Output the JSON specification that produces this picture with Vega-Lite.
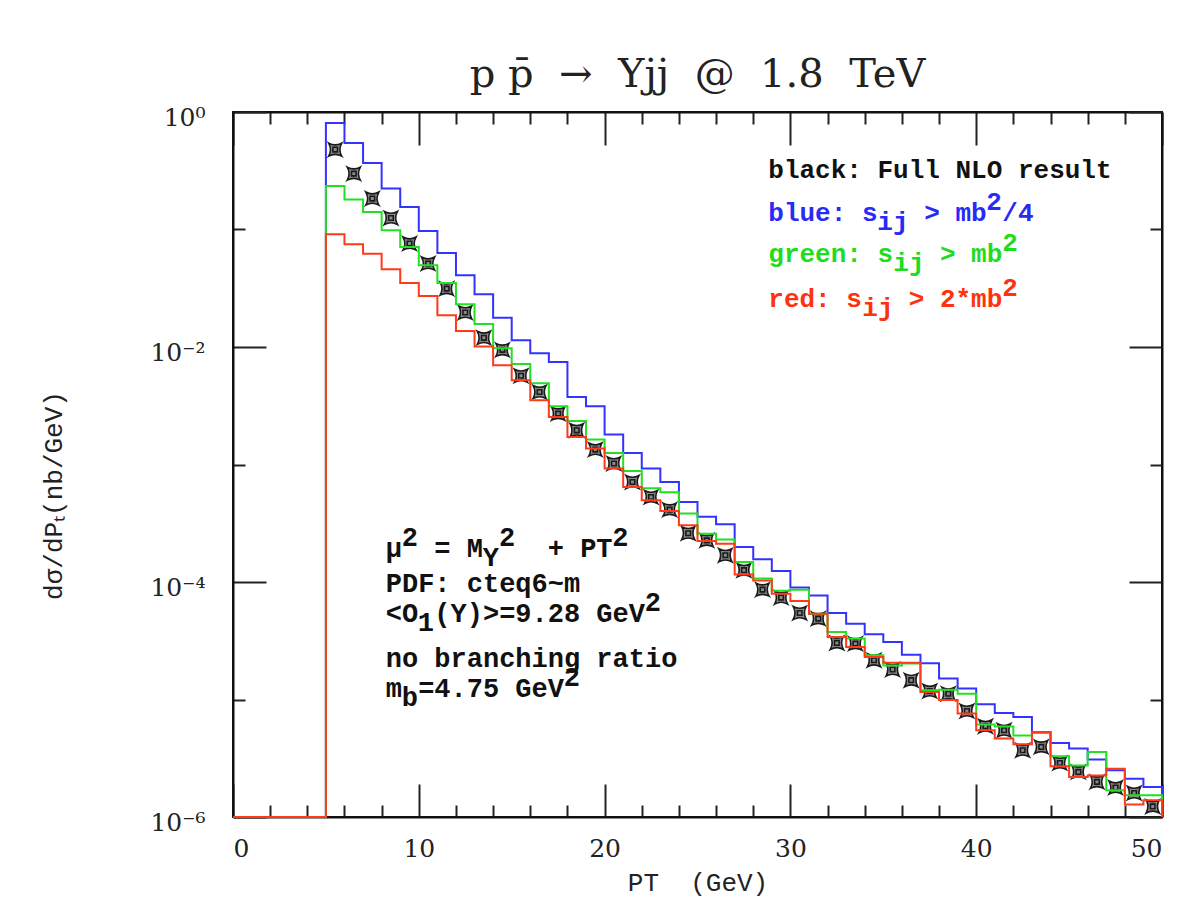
{
  "$schema": "https://vega.github.io/schema/vega-lite/v6.json",
  "width": 929,
  "height": 705,
  "autosize": {"type": "none"},
  "padding": {"left": 233, "top": 112, "right": 25, "bottom": 98},
  "background": "white",
  "title": {"text": "p p̄\u00a0\u00a0→\u00a0\u00a0Yjj\u00a0\u00a0@\u00a0\u00a01.8\u00a0\u00a0TeV", "font": "DejaVu Serif", "fontSize": 40, "fontWeight": "normal", "color": "#222", "offset": 10, "anchor": "middle"},
  "config": {
    "view": {"stroke": "#111", "strokeWidth": 2},
    "axis": {"grid": false, "domainColor": "#111", "domainWidth": 2, "tickColor": "#222", "tickWidth": 2, "labelColor": "#222", "titleColor": "#222", "labelFont": "DejaVu Serif", "labelFontSize": 25, "titleFont": "Liberation Mono", "titleFontSize": 26, "titleFontWeight": "normal"},
    "text": {"font": "Liberation Mono", "align": "left", "baseline": "alphabetic"}
  },
  "datasets": {
    "hist": [
      {"pt": 0, "series": "blue", "value": 1e-6},
      {"pt": 5, "series": "blue", "value": 0.806},
      {"pt": 6, "series": "blue", "value": 0.545},
      {"pt": 7, "series": "blue", "value": 0.368},
      {"pt": 8, "series": "blue", "value": 0.223},
      {"pt": 9, "series": "blue", "value": 0.1554},
      {"pt": 10, "series": "blue", "value": 0.0971},
      {"pt": 11, "series": "blue", "value": 0.0631},
      {"pt": 12, "series": "blue", "value": 0.0407},
      {"pt": 13, "series": "blue", "value": 0.0281},
      {"pt": 14, "series": "blue", "value": 0.0177},
      {"pt": 15, "series": "blue", "value": 0.0114},
      {"pt": 16, "series": "blue", "value": 0.00884},
      {"pt": 17, "series": "blue", "value": 0.00745},
      {"pt": 18, "series": "blue", "value": 0.00375},
      {"pt": 19, "series": "blue", "value": 0.00313},
      {"pt": 20, "series": "blue", "value": 0.0018},
      {"pt": 21, "series": "blue", "value": 0.00125},
      {"pt": 22, "series": "blue", "value": 0.000923},
      {"pt": 23, "series": "blue", "value": 0.00071},
      {"pt": 24, "series": "blue", "value": 0.00048},
      {"pt": 25, "series": "blue", "value": 0.000359},
      {"pt": 26, "series": "blue", "value": 0.00031},
      {"pt": 27, "series": "blue", "value": 0.000199},
      {"pt": 28, "series": "blue", "value": 0.000156},
      {"pt": 29, "series": "blue", "value": 0.000124},
      {"pt": 30, "series": "blue", "value": 8.96e-5},
      {"pt": 31, "series": "blue", "value": 7.66e-5},
      {"pt": 32, "series": "blue", "value": 5.45e-5},
      {"pt": 33, "series": "blue", "value": 4.42e-5},
      {"pt": 34, "series": "blue", "value": 3.59e-5},
      {"pt": 35, "series": "blue", "value": 3.09e-5},
      {"pt": 36, "series": "blue", "value": 2.4e-5},
      {"pt": 37, "series": "blue", "value": 2.03e-5},
      {"pt": 38, "series": "blue", "value": 1.51e-5},
      {"pt": 39, "series": "blue", "value": 1.24e-5},
      {"pt": 40, "series": "blue", "value": 9.1e-6},
      {"pt": 41, "series": "blue", "value": 7.67e-6},
      {"pt": 42, "series": "blue", "value": 7.1e-6},
      {"pt": 43, "series": "blue", "value": 5.29e-6},
      {"pt": 44, "series": "blue", "value": 4.26e-6},
      {"pt": 45, "series": "blue", "value": 3.82e-6},
      {"pt": 46, "series": "blue", "value": 3.08e-6},
      {"pt": 47, "series": "blue", "value": 2.5e-6},
      {"pt": 48, "series": "blue", "value": 2.12e-6},
      {"pt": 49, "series": "blue", "value": 1.8e-6},
      {"pt": 50, "series": "blue", "value": 1e-6},
      {"pt": 0, "series": "green", "value": 1e-6},
      {"pt": 5, "series": "green", "value": 0.2346},
      {"pt": 6, "series": "green", "value": 0.1797},
      {"pt": 7, "series": "green", "value": 0.141},
      {"pt": 8, "series": "green", "value": 0.0985},
      {"pt": 9, "series": "green", "value": 0.071},
      {"pt": 10, "series": "green", "value": 0.0496},
      {"pt": 11, "series": "green", "value": 0.0351},
      {"pt": 12, "series": "green", "value": 0.0231},
      {"pt": 13, "series": "green", "value": 0.0157},
      {"pt": 14, "series": "green", "value": 0.00975},
      {"pt": 15, "series": "green", "value": 0.00717},
      {"pt": 16, "series": "green", "value": 0.00491},
      {"pt": 17, "series": "green", "value": 0.00313},
      {"pt": 18, "series": "green", "value": 0.00234},
      {"pt": 19, "series": "green", "value": 0.00163},
      {"pt": 20, "series": "green", "value": 0.00125},
      {"pt": 21, "series": "green", "value": 0.00088},
      {"pt": 22, "series": "green", "value": 0.000627},
      {"pt": 23, "series": "green", "value": 0.00058},
      {"pt": 24, "series": "green", "value": 0.000382},
      {"pt": 25, "series": "green", "value": 0.000258},
      {"pt": 26, "series": "green", "value": 0.00023},
      {"pt": 27, "series": "green", "value": 0.000148},
      {"pt": 28, "series": "green", "value": 0.000107},
      {"pt": 29, "series": "green", "value": 8.41e-5},
      {"pt": 30, "series": "green", "value": 8.6e-5},
      {"pt": 31, "series": "green", "value": 5.38e-5},
      {"pt": 32, "series": "green", "value": 3.75e-5},
      {"pt": 33, "series": "green", "value": 3.3e-5},
      {"pt": 34, "series": "green", "value": 2.38e-5},
      {"pt": 35, "series": "green", "value": 1.95e-5},
      {"pt": 36, "series": "green", "value": 2.02e-5},
      {"pt": 37, "series": "green", "value": 1.2e-5},
      {"pt": 38, "series": "green", "value": 1.21e-5},
      {"pt": 39, "series": "green", "value": 1.12e-5},
      {"pt": 40, "series": "green", "value": 6.12e-6},
      {"pt": 41, "series": "green", "value": 5.89e-6},
      {"pt": 42, "series": "green", "value": 4.94e-6},
      {"pt": 43, "series": "green", "value": 5.19e-6},
      {"pt": 44, "series": "green", "value": 3.29e-6},
      {"pt": 45, "series": "green", "value": 2.75e-6},
      {"pt": 46, "series": "green", "value": 3.57e-6},
      {"pt": 47, "series": "green", "value": 1.69e-6},
      {"pt": 48, "series": "green", "value": 1.53e-6},
      {"pt": 49, "series": "green", "value": 1.53e-6},
      {"pt": 50, "series": "green", "value": 1e-6},
      {"pt": 0, "series": "red", "value": 1e-6},
      {"pt": 5, "series": "red", "value": 0.091},
      {"pt": 6, "series": "red", "value": 0.0748},
      {"pt": 7, "series": "red", "value": 0.0623},
      {"pt": 8, "series": "red", "value": 0.0458},
      {"pt": 9, "series": "red", "value": 0.0351},
      {"pt": 10, "series": "red", "value": 0.0272},
      {"pt": 11, "series": "red", "value": 0.0186},
      {"pt": 12, "series": "red", "value": 0.01368},
      {"pt": 13, "series": "red", "value": 0.01008},
      {"pt": 14, "series": "red", "value": 0.00699},
      {"pt": 15, "series": "red", "value": 0.00521},
      {"pt": 16, "series": "red", "value": 0.00352},
      {"pt": 17, "series": "red", "value": 0.00254},
      {"pt": 18, "series": "red", "value": 0.00171},
      {"pt": 19, "series": "red", "value": 0.001366},
      {"pt": 20, "series": "red", "value": 0.000923},
      {"pt": 21, "series": "red", "value": 0.000643},
      {"pt": 22, "series": "red", "value": 0.000496},
      {"pt": 23, "series": "red", "value": 0.000402},
      {"pt": 24, "series": "red", "value": 0.000304},
      {"pt": 25, "series": "red", "value": 0.000223},
      {"pt": 26, "series": "red", "value": 0.000212},
      {"pt": 27, "series": "red", "value": 0.000116},
      {"pt": 28, "series": "red", "value": 0.000103},
      {"pt": 29, "series": "red", "value": 7.96e-5},
      {"pt": 30, "series": "red", "value": 6.89e-5},
      {"pt": 31, "series": "red", "value": 5.38e-5},
      {"pt": 32, "series": "red", "value": 3.4e-5},
      {"pt": 33, "series": "red", "value": 2.8e-5},
      {"pt": 34, "series": "red", "value": 2.3e-5},
      {"pt": 35, "series": "red", "value": 2.05e-5},
      {"pt": 36, "series": "red", "value": 2.05e-5},
      {"pt": 37, "series": "red", "value": 1.16e-5},
      {"pt": 38, "series": "red", "value": 9.9e-6},
      {"pt": 39, "series": "red", "value": 7.59e-6},
      {"pt": 40, "series": "red", "value": 5.47e-6},
      {"pt": 41, "series": "red", "value": 4.65e-6},
      {"pt": 42, "series": "red", "value": 4.16e-6},
      {"pt": 43, "series": "red", "value": 5.29e-6},
      {"pt": 44, "series": "red", "value": 2.7e-6},
      {"pt": 45, "series": "red", "value": 2.19e-6},
      {"pt": 46, "series": "red", "value": 2.26e-6},
      {"pt": 47, "series": "red", "value": 2.58e-6},
      {"pt": 48, "series": "red", "value": 1.28e-6},
      {"pt": 49, "series": "red", "value": 1.39e-6},
      {"pt": 50, "series": "red", "value": 1e-6}
    ],
    "nlo": [
      {"pt": 5.5, "value": 0.4786},
      {"pt": 6.5, "value": 0.299},
      {"pt": 7.5, "value": 0.1833},
      {"pt": 8.5, "value": 0.1253},
      {"pt": 9.5, "value": 0.0759},
      {"pt": 10.5, "value": 0.0513},
      {"pt": 11.5, "value": 0.0314},
      {"pt": 12.5, "value": 0.01967},
      {"pt": 13.5, "value": 0.01197},
      {"pt": 14.5, "value": 0.00945},
      {"pt": 15.5, "value": 0.00569},
      {"pt": 16.5, "value": 0.00414},
      {"pt": 17.5, "value": 0.00271},
      {"pt": 18.5, "value": 0.001954},
      {"pt": 19.5, "value": 0.00134},
      {"pt": 20.5, "value": 0.00102},
      {"pt": 21.5, "value": 0.00071},
      {"pt": 22.5, "value": 0.000529},
      {"pt": 23.5, "value": 0.000413},
      {"pt": 24.5, "value": 0.00026},
      {"pt": 25.5, "value": 0.000226},
      {"pt": 26.5, "value": 0.000169},
      {"pt": 27.5, "value": 0.000126},
      {"pt": 28.5, "value": 8.61e-5},
      {"pt": 29.5, "value": 7.37e-5},
      {"pt": 30.5, "value": 5.45e-5},
      {"pt": 31.5, "value": 4.88e-5},
      {"pt": 32.5, "value": 3.03e-5},
      {"pt": 33.5, "value": 2.99e-5},
      {"pt": 34.5, "value": 2.16e-5},
      {"pt": 35.5, "value": 1.8e-5},
      {"pt": 36.5, "value": 1.46e-5},
      {"pt": 37.5, "value": 1.18e-5},
      {"pt": 38.5, "value": 1.12e-5},
      {"pt": 39.5, "value": 7.98e-6},
      {"pt": 40.5, "value": 5.91e-6},
      {"pt": 41.5, "value": 5.47e-6},
      {"pt": 42.5, "value": 3.7e-6},
      {"pt": 43.5, "value": 3.95e-6},
      {"pt": 44.5, "value": 2.88e-6},
      {"pt": 45.5, "value": 2.42e-6},
      {"pt": 46.5, "value": 1.99e-6},
      {"pt": 47.5, "value": 1.78e-6},
      {"pt": 48.5, "value": 1.6e-6},
      {"pt": 49.5, "value": 1.23e-6}
    ]
  },
  "layer": [
    {
      "data": {"name": "nlo"},
      "mark": {"type": "point", "shape": "M-1,-1Q0,-0.45,1,-1Q0.45,0,1,1Q0,0.45,-1,1Q-0.45,0,-1,-1ZM-0.35,-0.35L0.35,-0.35L0.35,0.35L-0.35,0.35Z", "filled": true, "fill": "#8a8a8a", "stroke": "#1a1a1a", "strokeWidth": 1.6, "size": 170, "opacity": 1},
      "encoding": {
        "x": {"field": "pt", "type": "quantitative", "scale": {"domain": [0, 50], "nice": false, "zero": false},
          "axis": {"orient": "bottom", "values": [0,2,4,6,8,10,12,14,16,18,20,22,24,26,28,30,32,34,36,38,40,42,44,46,48,50], "labelExpr": "datum.value % 10 === 0 ? datum.label : ''", "tickSize": {"condition": {"test": "datum.value % 10 === 0", "value": -33}, "value": -12}, "labelPadding": 52, "title": "PT\u00a0\u00a0(GeV)", "titlePadding": 8}},
        "y": {"field": "value", "type": "quantitative", "scale": {"type": "log", "domain": [1e-6, 1], "nice": false},
          "axis": {"orient": "left", "values": [1e-6, 1e-5, 1e-4, 1e-3, 1e-2, 1e-1, 1], "labelExpr": "datum.value > 0.5 ? '10⁰' : (datum.value > 0.005 && datum.value < 0.02) ? '10⁻²' : (datum.value > 0.00005 && datum.value < 0.0002) ? '10⁻⁴' : datum.value < 0.000002 ? '10⁻⁶' : ''", "tickSize": {"condition": {"test": "datum.value > 0.5 || (datum.value > 0.005 && datum.value < 0.02) || (datum.value > 0.00005 && datum.value < 0.0002) || datum.value < 0.000002", "value": -33}, "value": -12}, "labelPadding": 61, "labelOffset": 5, "title": "dσ/dPₜ(nb/GeV)", "titleX": -180, "titleY": 383, "titleAngle": -90, "titleAlign": "center", "titleBaseline": "middle"}}
      }
    },
    {
      "data": {"name": "hist"},
      "transform": [{"filter": "datum.series === 'blue'"}],
      "mark": {"type": "line", "interpolate": "step-after", "color": "#3333ff", "strokeWidth": 2, "clip": false},
      "encoding": {
        "x": {"field": "pt", "type": "quantitative",
          "axis": {"orient": "top", "values": [0,2,4,6,8,10,12,14,16,18,20,22,24,26,28,30,32,34,36,38,40,42,44,46,48,50], "labels": false, "title": null, "tickSize": {"condition": {"test": "datum.value % 10 === 0", "value": -33}, "value": -12}}},
        "y": {"field": "value", "type": "quantitative",
          "axis": {"orient": "right", "values": [1e-6, 1e-5, 1e-4, 1e-3, 1e-2, 1e-1, 1], "labels": false, "title": null, "tickSize": {"condition": {"test": "datum.value > 0.5 || (datum.value > 0.005 && datum.value < 0.02) || (datum.value > 0.00005 && datum.value < 0.0002) || datum.value < 0.000002", "value": -33}, "value": -12}}}
      }
    },
    {
      "data": {"name": "hist"},
      "transform": [{"filter": "datum.series === 'green'"}],
      "mark": {"type": "line", "interpolate": "step-after", "color": "#22e022", "strokeWidth": 2, "clip": false},
      "encoding": {
        "x": {"field": "pt", "type": "quantitative", "axis": null},
        "y": {"field": "value", "type": "quantitative", "axis": null}
      }
    },
    {
      "data": {"name": "hist"},
      "transform": [{"filter": "datum.series === 'red'"}],
      "mark": {"type": "line", "interpolate": "step-after", "color": "#ff3a1a", "strokeWidth": 2, "clip": false},
      "encoding": {
        "x": {"field": "pt", "type": "quantitative", "axis": null},
        "y": {"field": "value", "type": "quantitative", "axis": null}
      }
    },
    {
      "data": {"values": [{"t": "black: Full NLO result"}]},
      "mark": {"type": "text", "fontSize": 26, "fontWeight": "bold", "color": "#111"},
      "encoding": {"x": {"datum": 28.81, "type": "quantitative", "axis": null}, "y": {"datum": 0.2766, "type": "quantitative", "axis": null}, "text": {"field": "t"}}
    },
    {
      "data": {"values": [{"t": "blue: s\u00a0\u00a0\u00a0> mb\u00a0/4"}]},
      "mark": {"type": "text", "fontSize": 26, "fontWeight": "bold", "color": "#2a2af5"},
      "encoding": {"x": {"datum": 28.81, "type": "quantitative", "axis": null}, "y": {"datum": 0.118, "type": "quantitative", "axis": null}, "text": {"field": "t"}}
    },
    {
      "data": {"values": [{"t": "ij"}]},
      "mark": {"type": "text", "fontSize": 26, "fontWeight": "bold", "color": "#2a2af5", "dx": 109, "dy": 9},
      "encoding": {"x": {"datum": 28.81, "type": "quantitative", "axis": null}, "y": {"datum": 0.118, "type": "quantitative", "axis": null}, "text": {"field": "t"}}
    },
    {
      "data": {"values": [{"t": "2"}]},
      "mark": {"type": "text", "fontSize": 26, "fontWeight": "bold", "color": "#2a2af5", "dx": 218, "dy": -11},
      "encoding": {"x": {"datum": 28.81, "type": "quantitative", "axis": null}, "y": {"datum": 0.118, "type": "quantitative", "axis": null}, "text": {"field": "t"}}
    },
    {
      "data": {"values": [{"t": "green: s\u00a0\u00a0\u00a0> mb"}]},
      "mark": {"type": "text", "fontSize": 26, "fontWeight": "bold", "color": "#1fdc1f"},
      "encoding": {"x": {"datum": 28.81, "type": "quantitative", "axis": null}, "y": {"datum": 0.0529, "type": "quantitative", "axis": null}, "text": {"field": "t"}}
    },
    {
      "data": {"values": [{"t": "ij"}]},
      "mark": {"type": "text", "fontSize": 26, "fontWeight": "bold", "color": "#1fdc1f", "dx": 125, "dy": 9},
      "encoding": {"x": {"datum": 28.81, "type": "quantitative", "axis": null}, "y": {"datum": 0.0529, "type": "quantitative", "axis": null}, "text": {"field": "t"}}
    },
    {
      "data": {"values": [{"t": "2"}]},
      "mark": {"type": "text", "fontSize": 26, "fontWeight": "bold", "color": "#1fdc1f", "dx": 234, "dy": -11},
      "encoding": {"x": {"datum": 28.81, "type": "quantitative", "axis": null}, "y": {"datum": 0.0529, "type": "quantitative", "axis": null}, "text": {"field": "t"}}
    },
    {
      "data": {"values": [{"t": "red: s\u00a0\u00a0\u00a0> 2*mb"}]},
      "mark": {"type": "text", "fontSize": 26, "fontWeight": "bold", "color": "#ff3210"},
      "encoding": {"x": {"datum": 28.81, "type": "quantitative", "axis": null}, "y": {"datum": 0.0219, "type": "quantitative", "axis": null}, "text": {"field": "t"}}
    },
    {
      "data": {"values": [{"t": "ij"}]},
      "mark": {"type": "text", "fontSize": 26, "fontWeight": "bold", "color": "#ff3210", "dx": 94, "dy": 9},
      "encoding": {"x": {"datum": 28.81, "type": "quantitative", "axis": null}, "y": {"datum": 0.0219, "type": "quantitative", "axis": null}, "text": {"field": "t"}}
    },
    {
      "data": {"values": [{"t": "2"}]},
      "mark": {"type": "text", "fontSize": 26, "fontWeight": "bold", "color": "#ff3210", "dx": 234, "dy": -11},
      "encoding": {"x": {"datum": 28.81, "type": "quantitative", "axis": null}, "y": {"datum": 0.0219, "type": "quantitative", "axis": null}, "text": {"field": "t"}}
    },
    {
      "data": {"values": [{"t": "μ\u00a0\u00a0= M\u00a0\u00a0\u00a0\u00a0+ PT"}]},
      "mark": {"type": "text", "fontSize": 27, "fontWeight": "bold", "color": "#111"},
      "encoding": {"x": {"datum": 8.22, "type": "quantitative", "axis": null}, "y": {"datum": 0.0001633, "type": "quantitative", "axis": null}, "text": {"field": "t"}}
    },
    {
      "data": {"values": [{"t": "2\u00a0\u00a0\u00a0\u00a0\u00a02\u00a0\u00a0\u00a0\u00a0\u00a0\u00a02"}]},
      "mark": {"type": "text", "fontSize": 27, "fontWeight": "bold", "color": "#111", "dx": 16, "dy": -11},
      "encoding": {"x": {"datum": 8.22, "type": "quantitative", "axis": null}, "y": {"datum": 0.0001633, "type": "quantitative", "axis": null}, "text": {"field": "t"}}
    },
    {
      "data": {"values": [{"t": "Y"}]},
      "mark": {"type": "text", "fontSize": 27, "fontWeight": "bold", "color": "#111", "dx": 97, "dy": 9},
      "encoding": {"x": {"datum": 8.22, "type": "quantitative", "axis": null}, "y": {"datum": 0.0001633, "type": "quantitative", "axis": null}, "text": {"field": "t"}}
    },
    {
      "data": {"values": [{"t": "PDF: cteq6~m"}]},
      "mark": {"type": "text", "fontSize": 27, "fontWeight": "bold", "color": "#111"},
      "encoding": {"x": {"datum": 8.22, "type": "quantitative", "axis": null}, "y": {"datum": 0.0000822, "type": "quantitative", "axis": null}, "text": {"field": "t"}}
    },
    {
      "data": {"values": [{"t": "<O\u00a0(Y)>=9.28 GeV"}]},
      "mark": {"type": "text", "fontSize": 27, "fontWeight": "bold", "color": "#111"},
      "encoding": {"x": {"datum": 8.22, "type": "quantitative", "axis": null}, "y": {"datum": 0.0000457, "type": "quantitative", "axis": null}, "text": {"field": "t"}}
    },
    {
      "data": {"values": [{"t": "1"}]},
      "mark": {"type": "text", "fontSize": 27, "fontWeight": "bold", "color": "#111", "dx": 32, "dy": 9},
      "encoding": {"x": {"datum": 8.22, "type": "quantitative", "axis": null}, "y": {"datum": 0.0000457, "type": "quantitative", "axis": null}, "text": {"field": "t"}}
    },
    {
      "data": {"values": [{"t": "2"}]},
      "mark": {"type": "text", "fontSize": 27, "fontWeight": "bold", "color": "#111", "dx": 259, "dy": -11},
      "encoding": {"x": {"datum": 8.22, "type": "quantitative", "axis": null}, "y": {"datum": 0.0000457, "type": "quantitative", "axis": null}, "text": {"field": "t"}}
    },
    {
      "data": {"values": [{"t": "no branching ratio"}]},
      "mark": {"type": "text", "fontSize": 27, "fontWeight": "bold", "color": "#111"},
      "encoding": {"x": {"datum": 8.22, "type": "quantitative", "axis": null}, "y": {"datum": 0.0000189, "type": "quantitative", "axis": null}, "text": {"field": "t"}}
    },
    {
      "data": {"values": [{"t": "m\u00a0=4.75 GeV"}]},
      "mark": {"type": "text", "fontSize": 27, "fontWeight": "bold", "color": "#111"},
      "encoding": {"x": {"datum": 8.22, "type": "quantitative", "axis": null}, "y": {"datum": 0.0000105, "type": "quantitative", "axis": null}, "text": {"field": "t"}}
    },
    {
      "data": {"values": [{"t": "b"}]},
      "mark": {"type": "text", "fontSize": 27, "fontWeight": "bold", "color": "#111", "dx": 16, "dy": 9},
      "encoding": {"x": {"datum": 8.22, "type": "quantitative", "axis": null}, "y": {"datum": 0.0000105, "type": "quantitative", "axis": null}, "text": {"field": "t"}}
    },
    {
      "data": {"values": [{"t": "2"}]},
      "mark": {"type": "text", "fontSize": 27, "fontWeight": "bold", "color": "#111", "dx": 178, "dy": -11},
      "encoding": {"x": {"datum": 8.22, "type": "quantitative", "axis": null}, "y": {"datum": 0.0000105, "type": "quantitative", "axis": null}, "text": {"field": "t"}}
    }
  ],
  "resolve": {"axis": {"x": "independent", "y": "independent"}}
}
